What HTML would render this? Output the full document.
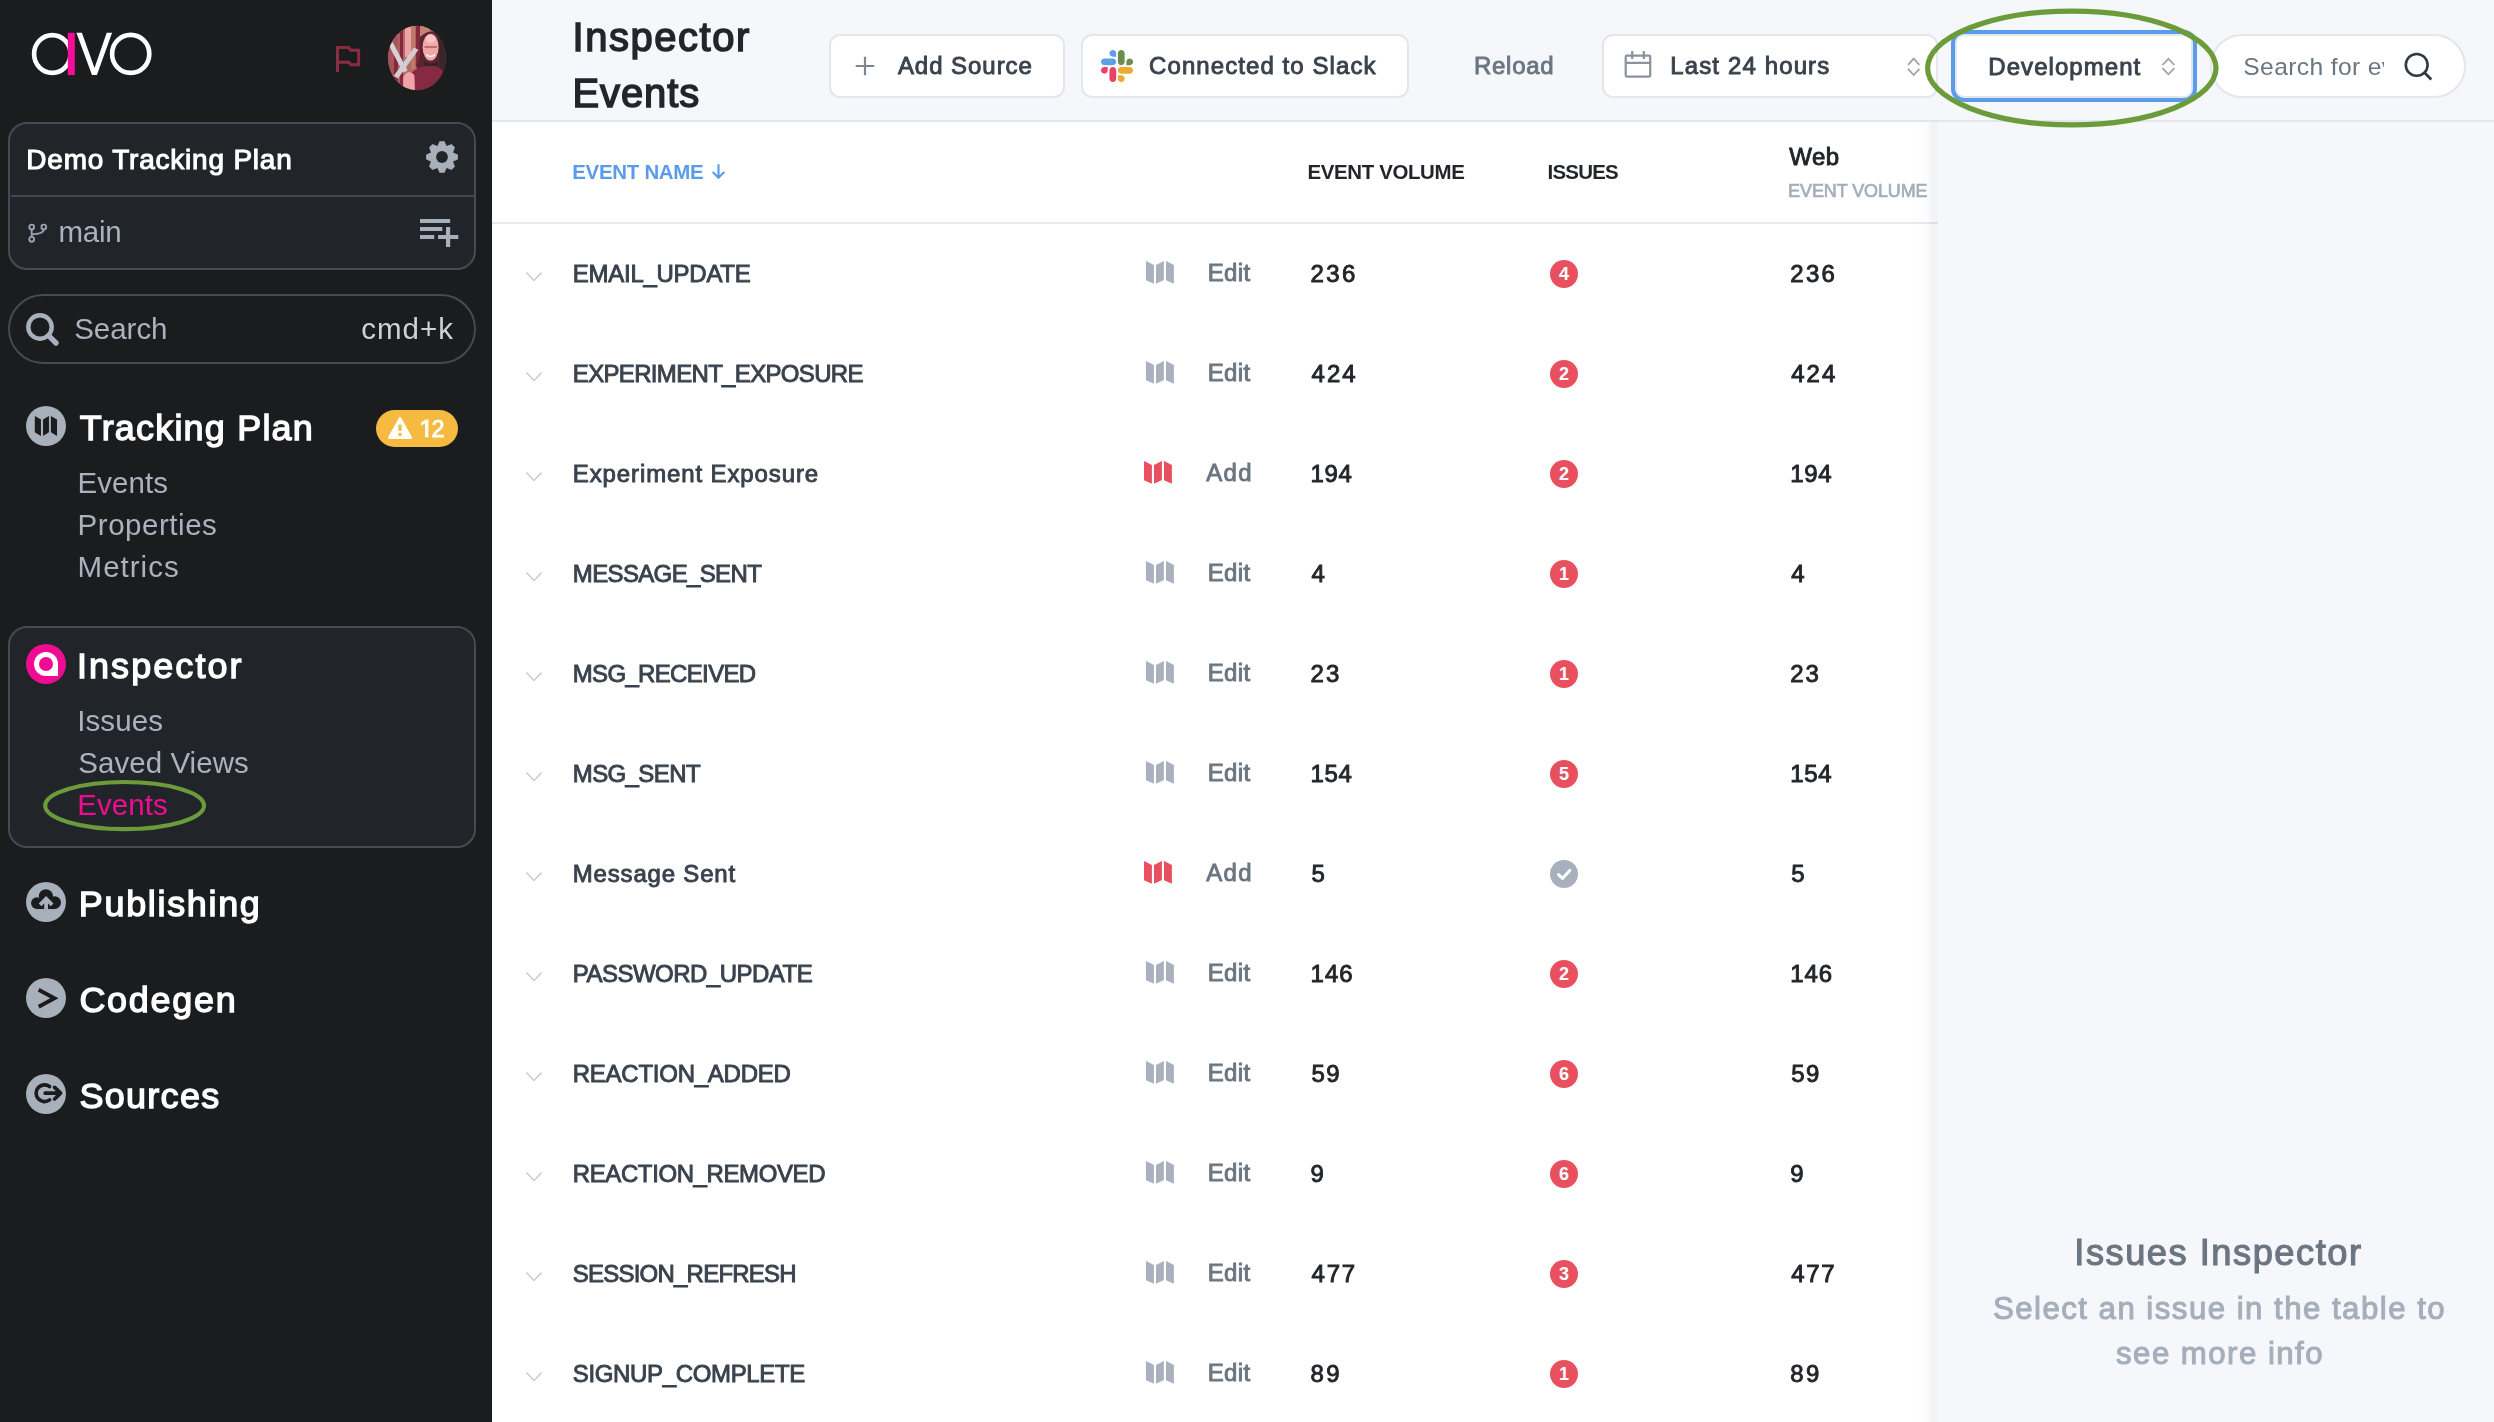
<!DOCTYPE html>
<html>
<head>
<meta charset="utf-8">
<title>Inspector Events</title>
<style>
*{box-sizing:border-box;margin:0;padding:0}
html,body{width:2494px;height:1422px;overflow:hidden;background:#f6f7fb}
body{font-family:"Liberation Sans",sans-serif;position:relative;color:#22262a}
.t{position:absolute;white-space:nowrap;line-height:1}
.abs{position:absolute}
#tx{position:absolute;left:0;top:0;width:2494px;height:1422px;will-change:transform}
#sb{position:absolute;left:0;top:0;width:492px;height:1422px;background:#1b1c1e}
.box{position:absolute;left:8px;width:468px;background:#212529;border:2px solid #444b55;border-radius:19px}
.ic{position:absolute;left:25.8px;width:40.4px;height:40.4px;border-radius:50%;background:#a8b0bc}
#hd{position:absolute;left:492px;top:0;width:2002px;height:122px;background:#f6f7fb;border-bottom:2px solid #e3e6ec}
#tb{position:absolute;left:492px;top:122px;width:1446px;height:1300px;background:#fff}
#th{position:absolute;left:0;top:100px;width:1446px;height:2px;background:#e6e9ee}
#rp{position:absolute;left:1938px;top:122px;width:556px;height:1300px;background:#f6f7fb;}
#sh{position:absolute;left:1916px;top:122px;width:22px;height:1300px;background:linear-gradient(to right,rgba(20,30,80,0) 0,rgba(20,30,80,.006) 30%,rgba(20,30,80,.014) 55%,rgba(20,30,80,.05) 68%,rgba(20,30,80,.056) 100%)}
.btn{position:absolute;top:34.3px;height:63.4px;background:#fff;border:2px solid #e3e6ea;border-radius:11px}
.bd{position:absolute;left:1549.9px;width:28.2px;height:28.2px;border-radius:50%;background:#e8505f;color:#fff;font-size:18px;font-weight:bold;text-align:center;line-height:28.6px}
</style>
</head>
<body>
<div id="sb">
<svg class="abs" style="left:28px;top:28px" width="130" height="52" viewBox="28 28 130 52">
<ellipse cx="52.3" cy="54" rx="18.2" ry="18.9" fill="none" stroke="#fff" stroke-width="4.6"/>
<rect x="67.8" y="32.8" width="7" height="42.3" fill="#f50d9a"/>
<path d="M76.4 32.8 L81.9 32.8 L94.5 67.9 L106.7 32.8 L112.1 32.8 L96.9 75 L92.0 75 Z" fill="#fff"/>
<ellipse cx="130.7" cy="53.9" rx="18.6" ry="19.0" fill="none" stroke="#fff" stroke-width="4.6"/>
</svg>
<svg class="abs" style="left:332px;top:42px" width="32" height="34" viewBox="332 42 32 34">
<path d="M337.5 72 V47.5 H348.6 L350.9 50.2 H358.6 V64.8 H350.9 L348.6 62.2 H337.5" fill="none" stroke="#8c2c42" stroke-width="3" stroke-linejoin="miter"/>
</svg>
<svg class="abs" style="left:386px;top:25px" width="64" height="66" viewBox="0 0 64 66">
<defs><clipPath id="av"><ellipse cx="30.9" cy="33" rx="28.9" ry="32.2"/></clipPath></defs>
<g clip-path="url(#av)">
<rect width="64" height="66" fill="#b06a68"/>
<rect x="0" y="0" width="12" height="66" fill="#a8525a"/>
<rect x="13.8" y="0" width="3.2" height="66" fill="#84283e"/>
<rect x="8" y="30" width="4" height="36" fill="#84283e"/>
<rect x="19" y="2" width="6" height="30" fill="#eea4a4"/>
<rect x="25" y="0" width="4.5" height="44" fill="#c07a6c"/>
<rect x="29.8" y="0" width="4.2" height="42" fill="#84283e"/>
<rect x="34" y="0" width="10" height="14" fill="#c48474"/>
<path d="M2.4 19.6 L6.8 17.2 L21.6 45.4 L17.2 47.8 Z" fill="#d8d0d4"/>
<path d="M28 22.4 L32.4 24.8 L12 53.6 L7.6 51 Z" fill="#d4ccd0"/>
<path d="M34 12 Q44 2 55 10 L62 30 L62 66 L30 66 L31 40 L34 30 Z" fill="#5a2430"/>
<path d="M52.5 8 L60 14 L61 56 L54 54 Z" fill="#36262a"/>
<ellipse cx="44.6" cy="22.2" rx="8" ry="13.4" fill="#f4a6a8"/>
<ellipse cx="44.6" cy="14" rx="5" ry="4" fill="#f8c4c4"/>
<path d="M38.5 22 H51" stroke="#a85a62" stroke-width="1.6"/>
<path d="M40 29.5 Q44.6 33.5 49.2 29.5" stroke="#fff0f0" stroke-width="1.6" fill="none"/>
<path d="M38 36 Q44.6 42 52 36 L52 41 L38 41 Z" fill="#2c2628"/>
<path d="M23.8 66 L25 48 Q34 40 44 40.8 Q54 41 59 48 L60 66 Z" fill="#852a42"/>
<path d="M17 66 L17.4 52 Q22.5 43 28.4 50 L29 66 Z" fill="#f0a2a6"/>
</g>
</svg>
<div class="box" style="top:122px;height:148px"></div>
<div class="abs" style="left:10.5px;top:195px;width:463.5px;height:2px;background:#444a53"></div>
<svg class="abs" style="left:423.9px;top:138.8px" width="36" height="36" viewBox="-18 -18 36 36">
<g fill="#a8b0bc">
<circle r="11.8"/>
<path d="M-4.1 -10.8 L-2.1 -15.3 L2.1 -15.3 L4.1 -10.8 Z" stroke="#a8b0bc" stroke-width="1.1" stroke-linejoin="round" transform="rotate(0)"/><path d="M-4.1 -10.8 L-2.1 -15.3 L2.1 -15.3 L4.1 -10.8 Z" stroke="#a8b0bc" stroke-width="1.1" stroke-linejoin="round" transform="rotate(45)"/><path d="M-4.1 -10.8 L-2.1 -15.3 L2.1 -15.3 L4.1 -10.8 Z" stroke="#a8b0bc" stroke-width="1.1" stroke-linejoin="round" transform="rotate(90)"/><path d="M-4.1 -10.8 L-2.1 -15.3 L2.1 -15.3 L4.1 -10.8 Z" stroke="#a8b0bc" stroke-width="1.1" stroke-linejoin="round" transform="rotate(135)"/><path d="M-4.1 -10.8 L-2.1 -15.3 L2.1 -15.3 L4.1 -10.8 Z" stroke="#a8b0bc" stroke-width="1.1" stroke-linejoin="round" transform="rotate(180)"/><path d="M-4.1 -10.8 L-2.1 -15.3 L2.1 -15.3 L4.1 -10.8 Z" stroke="#a8b0bc" stroke-width="1.1" stroke-linejoin="round" transform="rotate(225)"/><path d="M-4.1 -10.8 L-2.1 -15.3 L2.1 -15.3 L4.1 -10.8 Z" stroke="#a8b0bc" stroke-width="1.1" stroke-linejoin="round" transform="rotate(270)"/><path d="M-4.1 -10.8 L-2.1 -15.3 L2.1 -15.3 L4.1 -10.8 Z" stroke="#a8b0bc" stroke-width="1.1" stroke-linejoin="round" transform="rotate(315)"/>
</g>
<circle r="5.9" fill="#212529"/>
</svg>
<svg class="abs" style="left:26px;top:221px" width="24" height="24" viewBox="26 221 24 24">
<g fill="none" stroke="#9aa3b0" stroke-width="1.9">
<circle cx="31.7" cy="227" r="2.4"/><circle cx="31.7" cy="239.3" r="2.4"/><circle cx="43.8" cy="227" r="2.4"/>
<path d="M31.7 229.4 V236.9"/><path d="M43.8 229.4 Q43.8 233.6 31.7 234.4"/>
</g>
</svg>
<svg class="abs" style="left:418px;top:217px" width="42" height="32" viewBox="418 217 42 32">
<g fill="#a8b0bc">
<rect x="420" y="219" width="30.2" height="4"/><rect x="420" y="227" width="22.3" height="4"/><rect x="420" y="235" width="14.2" height="4"/>
<rect x="438" y="235" width="20.3" height="4"/><rect x="446" y="227" width="4.2" height="20"/>
</g>
</svg>
<div class="box" style="top:294px;height:70px;border-radius:35px;background:#1b1c1e"></div>
<svg class="abs" style="left:24px;top:310px" width="38" height="38" viewBox="24 310 38 38">
<circle cx="40" cy="327" r="11.7" fill="none" stroke="#a8b0bc" stroke-width="4.4"/>
<path d="M48.6 335.6 L56 343" stroke="#a8b0bc" stroke-width="5.4" stroke-linecap="round"/>
</svg>
<div class="ic" style="top:405.8px"></div>
<svg class="abs" style="left:25px;top:406px" width="41" height="41" viewBox="25 406 41 41">
<g fill="#1b1c1e">
<path d="M34.8 415.9 L40.95 419.5 V435.9 L34.8 432.3 Z"/>
<path d="M43.05 419.5 L48.95 415.9 V432.3 L43.05 435.9 Z"/>
<path d="M50.9 415.9 L57 419.5 V435.9 L50.9 432.3 Z"/>
</g>
</svg>
<div class="abs" style="left:375.9px;top:409.9px;width:82.3px;height:37.3px;border-radius:19px;background:#f5ba40"></div>
<svg class="abs" style="left:386px;top:415px" width="28" height="26" viewBox="386 415 28 26">
<path d="M400.05 418.3 L410.8 437.6 H389.3 Z" fill="#fff" stroke="#fff" stroke-width="2.6" stroke-linejoin="round"/>
<rect x="398.4" y="424.6" width="3.2" height="6.2" fill="#f5ba40"/><rect x="398.4" y="432.9" width="3.2" height="3.1" fill="#f5ba40"/>
</svg>
<svg class="abs" style="left:419px;top:417px" width="12" height="23" viewBox="419 417 12 23"><path d="M428.4 419.5 V437.3 H425.1 V423.2 L421.2 425.7 V422.5 L425.7 419.5 Z" fill="#fff"/></svg>
<div class="box" style="top:626px;height:222px"></div>
<div class="ic" style="top:643.8px;background:#f00c92"></div>
<svg class="abs" style="left:25px;top:644px" width="41" height="41" viewBox="25 644 41 41">
<path d="M46 652 A12 12 0 0 1 58 664 V676 H46 A12 12 0 0 1 46 652 Z" fill="#fff"/>
<circle cx="46" cy="664" r="7" fill="#f00c92"/>
</svg>
<svg class="abs" style="left:38px;top:775px" width="174" height="62" viewBox="38 775 174 62">
<ellipse cx="124.6" cy="805.6" rx="79.4" ry="23.6" fill="none" stroke="#6b9c39" stroke-width="4.2"/>
</svg>
<div class="ic" style="top:881.8px"></div>
<svg class="abs" style="left:25.9px;top:882px" width="40.4" height="40.4" viewBox="0 0 40.4 40.4">
<g fill="#1b1c1e"><circle cx="19.9" cy="14.2" r="7"/><circle cx="10.9" cy="21.2" r="5.85"/><circle cx="28.6" cy="20.6" r="6.4"/><rect x="10.9" y="16" width="17.7" height="11.05"/></g>
<path d="M20.1 27.3 V17 M14.1 22.8 L20.1 16.7 L26.1 22.8" fill="none" stroke="#a8b0bc" stroke-width="3.8"/>
</svg>
<div class="ic" style="top:977.6px"></div>
<svg class="abs" style="left:25.9px;top:977.7px" width="40.4" height="40.4" viewBox="0 0 40.4 40.4">
<path d="M14.4 12.7 L28.4 20.2 L14.4 27.8" fill="none" stroke="#1b1c1e" stroke-width="3.9" stroke-linecap="square" stroke-linejoin="miter"/>
</svg>
<div class="ic" style="top:1073.7px"></div>
<svg class="abs" style="left:25.9px;top:1073.7px" width="40.4" height="40.4" viewBox="0 0 40.4 40.4">
<g fill="none" stroke="#1b1c1e" stroke-width="3.7" stroke-linecap="round" stroke-linejoin="round">
<path d="M23.6 12.5 A8.4 8.4 0 1 0 23.6 25.9"/>
<path d="M19.2 19.2 H34.4 M28.6 13.4 L34.6 19.2 L28.6 25"/>
</g>
</svg>
</div>
<div id="hd"></div>
<div class="btn" style="left:829.3px;width:235.4px"></div>
<svg class="abs" style="left:853px;top:54px" width="24" height="24" viewBox="853 54 24 24">
<path d="M855.7 66 H874.3 M865 56.7 V75.3" stroke="#7d8691" stroke-width="2.2" fill="none"/>
</svg>
<div class="btn" style="left:1081.4px;width:328px"></div>
<svg class="abs" style="left:1100.8px;top:50px" width="32.1" height="32.1" viewBox="0 0 122.8 122.8">
<path fill="#e8426a" d="M25.8 77.6c0 7.1-5.8 12.9-12.9 12.9S0 84.7 0 77.6s5.8-12.9 12.9-12.9h12.9v12.9zm6.5 0c0-7.1 5.8-12.9 12.9-12.9s12.9 5.8 12.9 12.9v32.3c0 7.1-5.8 12.9-12.9 12.9s-12.9-5.8-12.9-12.9V77.6z"/>
<path fill="#5b9fe8" d="M45.2 25.8c-7.1 0-12.9-5.8-12.9-12.9S38.1 0 45.2 0s12.9 5.8 12.9 12.9v12.9H45.2zm0 6.5c7.1 0 12.9 5.8 12.9 12.9s-5.8 12.9-12.9 12.9H12.9C5.8 58.1 0 52.3 0 45.2s5.8-12.9 12.9-12.9h32.3z"/>
<path fill="#6b8e4e" d="M97 45.2c0-7.1 5.8-12.9 12.9-12.9s12.9 5.8 12.9 12.9-5.8 12.9-12.9 12.9H97V45.2zm-6.5 0c0 7.1-5.8 12.9-12.9 12.9s-12.9-5.8-12.9-12.9V12.9C64.7 5.8 70.5 0 77.6 0s12.9 5.8 12.9 12.9v32.3z"/>
<path fill="#eeab30" d="M77.6 97c7.1 0 12.9 5.8 12.9 12.9s-5.8 12.9-12.9 12.9-12.9-5.8-12.9-12.9V97h12.9zm0-6.5c-7.1 0-12.9-5.8-12.9-12.9s5.8-12.9 12.9-12.9h32.3c7.1 0 12.9 5.8 12.9 12.9s-5.8 12.9-12.9 12.9H77.6z"/>
</svg>
<div class="btn" style="left:1602.3px;width:335.6px"></div>
<svg class="abs" style="left:1622px;top:49px" width="32" height="32" viewBox="1622 49 32 32">
<g fill="none" stroke="#8a929d" stroke-width="2.2">
<rect x="1625.7" y="55.7" width="24.5" height="20.9" rx="1"/>
<path d="M1625.7 62.9 H1650.2 M1632.2 51 V59 M1643.8 51 V59"/>
</g>
</svg>
<svg class="abs" style="left:1904px;top:54px" width="20" height="26" viewBox="1904 54 20 26">
<path d="M1908 64.8 L1913.7 58.6 L1919.4 64.8 M1908 68.8 L1913.7 75 L1919.4 68.8" fill="none" stroke="#9aa2ad" stroke-width="1.7"/>
</svg>
<div class="btn" style="left:1954.6px;width:238px;box-shadow:0 0 0 4px #5b9cea;border-radius:9px"></div>
<svg class="abs" style="left:2158px;top:54px" width="20" height="26" viewBox="2158 54 20 26">
<path d="M2162.4 65 L2168.4 58.8 L2174.4 65 M2162.4 68.2 L2168.4 74.4 L2174.4 68.2" fill="none" stroke="#9aa2ad" stroke-width="1.7"/>
</svg>
<div class="btn" style="left:2209.5px;width:256.4px;border-radius:32px"></div>
<svg class="abs" style="left:2400px;top:48px" width="36" height="36" viewBox="2400 48 36 36">
<circle cx="2416.7" cy="64.9" r="10.9" fill="none" stroke="#2f3844" stroke-width="2.6"/>
<path d="M2424.6 72.8 L2430.3 78.4" stroke="#2f3844" stroke-width="2.8" stroke-linecap="square"/>
</svg>
<div id="tb"><div id="th"></div></div>
<svg class="abs" style="left:709px;top:162px" width="20" height="20" viewBox="709 162 20 20"><path d="M718.5 164.3 V177.6 M712.7 172 L718.5 177.8 L724.3 172" fill="none" stroke="#5b9cea" stroke-width="2.2"/></svg>
<svg class="abs" style="left:524px;top:269.8px" width="20" height="14" viewBox="0 0 20 14"><path d="M2.4 2.5 L10 10.6 L17.6 2.5" fill="none" stroke="#c5cad2" stroke-width="1.4"/></svg>
<svg class="abs" style="left:1146px;top:260.5px" width="28" height="23" viewBox="0 0 28 23"><g fill="#a9b1be"><path d="M0 0 L7.9 3.9 V22.8 L0 19.2 Z"/><path d="M10 3.9 L17.9 0 V19 L10 22.8 Z"/><path d="M20 0 L27.9 3.9 V22.8 L20 19.2 Z"/></g></svg>
<div class="bd" style="top:259.7px">4</div>
<svg class="abs" style="left:524px;top:369.8px" width="20" height="14" viewBox="0 0 20 14"><path d="M2.4 2.5 L10 10.6 L17.6 2.5" fill="none" stroke="#c5cad2" stroke-width="1.4"/></svg>
<svg class="abs" style="left:1146px;top:360.5px" width="28" height="23" viewBox="0 0 28 23"><g fill="#a9b1be"><path d="M0 0 L7.9 3.9 V22.8 L0 19.2 Z"/><path d="M10 3.9 L17.9 0 V19 L10 22.8 Z"/><path d="M20 0 L27.9 3.9 V22.8 L20 19.2 Z"/></g></svg>
<div class="bd" style="top:359.7px">2</div>
<svg class="abs" style="left:524px;top:469.8px" width="20" height="14" viewBox="0 0 20 14"><path d="M2.4 2.5 L10 10.6 L17.6 2.5" fill="none" stroke="#c5cad2" stroke-width="1.4"/></svg>
<svg class="abs" style="left:1144.1px;top:460.5px" width="28" height="23" viewBox="0 0 28 23"><g fill="#e8505f"><path d="M0 0 L7.9 3.9 V22.8 L0 19.2 Z"/><path d="M10 3.9 L17.9 0 V19 L10 22.8 Z"/><path d="M20 0 L27.9 3.9 V22.8 L20 19.2 Z"/></g></svg>
<div class="bd" style="top:459.7px">2</div>
<svg class="abs" style="left:524px;top:569.8px" width="20" height="14" viewBox="0 0 20 14"><path d="M2.4 2.5 L10 10.6 L17.6 2.5" fill="none" stroke="#c5cad2" stroke-width="1.4"/></svg>
<svg class="abs" style="left:1146px;top:560.5px" width="28" height="23" viewBox="0 0 28 23"><g fill="#a9b1be"><path d="M0 0 L7.9 3.9 V22.8 L0 19.2 Z"/><path d="M10 3.9 L17.9 0 V19 L10 22.8 Z"/><path d="M20 0 L27.9 3.9 V22.8 L20 19.2 Z"/></g></svg>
<div class="bd" style="top:559.7px">1</div>
<svg class="abs" style="left:524px;top:669.8px" width="20" height="14" viewBox="0 0 20 14"><path d="M2.4 2.5 L10 10.6 L17.6 2.5" fill="none" stroke="#c5cad2" stroke-width="1.4"/></svg>
<svg class="abs" style="left:1146px;top:660.5px" width="28" height="23" viewBox="0 0 28 23"><g fill="#a9b1be"><path d="M0 0 L7.9 3.9 V22.8 L0 19.2 Z"/><path d="M10 3.9 L17.9 0 V19 L10 22.8 Z"/><path d="M20 0 L27.9 3.9 V22.8 L20 19.2 Z"/></g></svg>
<div class="bd" style="top:659.7px">1</div>
<svg class="abs" style="left:524px;top:769.8px" width="20" height="14" viewBox="0 0 20 14"><path d="M2.4 2.5 L10 10.6 L17.6 2.5" fill="none" stroke="#c5cad2" stroke-width="1.4"/></svg>
<svg class="abs" style="left:1146px;top:760.5px" width="28" height="23" viewBox="0 0 28 23"><g fill="#a9b1be"><path d="M0 0 L7.9 3.9 V22.8 L0 19.2 Z"/><path d="M10 3.9 L17.9 0 V19 L10 22.8 Z"/><path d="M20 0 L27.9 3.9 V22.8 L20 19.2 Z"/></g></svg>
<div class="bd" style="top:759.7px">5</div>
<svg class="abs" style="left:524px;top:869.8px" width="20" height="14" viewBox="0 0 20 14"><path d="M2.4 2.5 L10 10.6 L17.6 2.5" fill="none" stroke="#c5cad2" stroke-width="1.4"/></svg>
<svg class="abs" style="left:1144.1px;top:860.5px" width="28" height="23" viewBox="0 0 28 23"><g fill="#e8505f"><path d="M0 0 L7.9 3.9 V22.8 L0 19.2 Z"/><path d="M10 3.9 L17.9 0 V19 L10 22.8 Z"/><path d="M20 0 L27.9 3.9 V22.8 L20 19.2 Z"/></g></svg>
<div class="bd" style="top:859.7px;background:#a8b0bc"></div>
<svg class="abs" style="left:1549.9px;top:859.7px" width="28.2" height="28.2" viewBox="0 0 28.2 28.2"><path d="M8.6 14.6 L12.5 18.4 L19.8 10.4" fill="none" stroke="#fff" stroke-width="3" stroke-linecap="round" stroke-linejoin="round"/></svg>
<svg class="abs" style="left:524px;top:969.8px" width="20" height="14" viewBox="0 0 20 14"><path d="M2.4 2.5 L10 10.6 L17.6 2.5" fill="none" stroke="#c5cad2" stroke-width="1.4"/></svg>
<svg class="abs" style="left:1146px;top:960.5px" width="28" height="23" viewBox="0 0 28 23"><g fill="#a9b1be"><path d="M0 0 L7.9 3.9 V22.8 L0 19.2 Z"/><path d="M10 3.9 L17.9 0 V19 L10 22.8 Z"/><path d="M20 0 L27.9 3.9 V22.8 L20 19.2 Z"/></g></svg>
<div class="bd" style="top:959.7px">2</div>
<svg class="abs" style="left:524px;top:1069.8px" width="20" height="14" viewBox="0 0 20 14"><path d="M2.4 2.5 L10 10.6 L17.6 2.5" fill="none" stroke="#c5cad2" stroke-width="1.4"/></svg>
<svg class="abs" style="left:1146px;top:1060.5px" width="28" height="23" viewBox="0 0 28 23"><g fill="#a9b1be"><path d="M0 0 L7.9 3.9 V22.8 L0 19.2 Z"/><path d="M10 3.9 L17.9 0 V19 L10 22.8 Z"/><path d="M20 0 L27.9 3.9 V22.8 L20 19.2 Z"/></g></svg>
<div class="bd" style="top:1059.7px">6</div>
<svg class="abs" style="left:524px;top:1169.8px" width="20" height="14" viewBox="0 0 20 14"><path d="M2.4 2.5 L10 10.6 L17.6 2.5" fill="none" stroke="#c5cad2" stroke-width="1.4"/></svg>
<svg class="abs" style="left:1146px;top:1160.5px" width="28" height="23" viewBox="0 0 28 23"><g fill="#a9b1be"><path d="M0 0 L7.9 3.9 V22.8 L0 19.2 Z"/><path d="M10 3.9 L17.9 0 V19 L10 22.8 Z"/><path d="M20 0 L27.9 3.9 V22.8 L20 19.2 Z"/></g></svg>
<div class="bd" style="top:1159.7px">6</div>
<svg class="abs" style="left:524px;top:1269.8px" width="20" height="14" viewBox="0 0 20 14"><path d="M2.4 2.5 L10 10.6 L17.6 2.5" fill="none" stroke="#c5cad2" stroke-width="1.4"/></svg>
<svg class="abs" style="left:1146px;top:1260.5px" width="28" height="23" viewBox="0 0 28 23"><g fill="#a9b1be"><path d="M0 0 L7.9 3.9 V22.8 L0 19.2 Z"/><path d="M10 3.9 L17.9 0 V19 L10 22.8 Z"/><path d="M20 0 L27.9 3.9 V22.8 L20 19.2 Z"/></g></svg>
<div class="bd" style="top:1259.7px">3</div>
<svg class="abs" style="left:524px;top:1369.8px" width="20" height="14" viewBox="0 0 20 14"><path d="M2.4 2.5 L10 10.6 L17.6 2.5" fill="none" stroke="#c5cad2" stroke-width="1.4"/></svg>
<svg class="abs" style="left:1146px;top:1360.5px" width="28" height="23" viewBox="0 0 28 23"><g fill="#a9b1be"><path d="M0 0 L7.9 3.9 V22.8 L0 19.2 Z"/><path d="M10 3.9 L17.9 0 V19 L10 22.8 Z"/><path d="M20 0 L27.9 3.9 V22.8 L20 19.2 Z"/></g></svg>
<div class="bd" style="top:1359.7px">1</div>
<div id="rp"></div>
<div id="sh"></div>
<div id="tx">
<div class="t" style="left:26.3px;top:146px;font-size:27.96px;color:#fff;-webkit-text-stroke:1.06px #fff;letter-spacing:0.81px;">Demo Tracking Plan</div>
<div class="t" style="left:58.5px;top:217px;font-size:29.5px;color:#aab2bf;letter-spacing:-0.24px;">main</div>
<div class="t" style="left:74.2px;top:314px;font-size:29.5px;color:#aab2bf;letter-spacing:-0.03px;">Search</div>
<div class="t" style="left:361.3px;top:314px;font-size:29.5px;color:#cdd2d9;letter-spacing:0.99px;">cmd+k</div>
<div class="t" style="left:79.8px;top:410px;font-size:35.95px;color:#fff;-webkit-text-stroke:1.37px #fff;letter-spacing:1.22px;">Tracking Plan</div>
<div class="t" style="left:431.6px;top:418px;font-size:23.44px;color:#fff;-webkit-text-stroke:0.75px #fff;">2</div>
<div class="t" style="left:77.6px;top:468px;font-size:29.5px;color:#aab2bf;letter-spacing:0.03px;">Events</div>
<div class="t" style="left:77.6px;top:510px;font-size:29.5px;color:#aab2bf;letter-spacing:0.53px;">Properties</div>
<div class="t" style="left:77.6px;top:552px;font-size:29.5px;color:#aab2bf;letter-spacing:1.00px;">Metrics</div>
<div class="t" style="left:76.9px;top:648px;font-size:35.95px;color:#fff;-webkit-text-stroke:1.37px #fff;letter-spacing:2.11px;">Inspector</div>
<div class="t" style="left:77.2px;top:706px;font-size:29.5px;color:#aab2bf;letter-spacing:0.10px;">Issues</div>
<div class="t" style="left:78.2px;top:748px;font-size:29.5px;color:#aab2bf;letter-spacing:0.06px;">Saved Views</div>
<div class="t" style="left:77.2px;top:790px;font-size:29.5px;color:#f00c92;letter-spacing:0.09px;">Events</div>
<div class="t" style="left:78.8px;top:886px;font-size:35.95px;color:#fff;-webkit-text-stroke:1.37px #fff;letter-spacing:1.69px;">Publishing</div>
<div class="t" style="left:79.4px;top:982px;font-size:35.95px;color:#fff;-webkit-text-stroke:1.37px #fff;letter-spacing:1.74px;">Codegen</div>
<div class="t" style="left:79.4px;top:1078px;font-size:35.95px;color:#fff;-webkit-text-stroke:1.37px #fff;letter-spacing:1.33px;">Sources</div>
<div class="t" style="left:572.6px;top:18px;font-size:39.95px;color:#22262a;-webkit-text-stroke:1.52px #22262a;letter-spacing:1.55px;">Inspector</div>
<div class="t" style="left:572.6px;top:74px;font-size:39.95px;color:#22262a;-webkit-text-stroke:1.52px #22262a;letter-spacing:0.89px;">Events</div>
<div class="t" style="left:897.9px;top:54px;font-size:23.97px;color:#3a424d;-webkit-text-stroke:0.91px #3a424d;letter-spacing:0.97px;">Add Source</div>
<div class="t" style="left:1149.1px;top:54px;font-size:23.97px;color:#3a424d;-webkit-text-stroke:0.91px #3a424d;letter-spacing:1.09px;">Connected to Slack</div>
<div class="t" style="left:1474.1px;top:54px;font-size:23.97px;color:#6b7681;-webkit-text-stroke:0.91px #6b7681;letter-spacing:0.69px;">Reload</div>
<div class="t" style="left:1670.3px;top:54px;font-size:23.97px;color:#3a424d;-webkit-text-stroke:0.91px #3a424d;letter-spacing:1.14px;">Last 24 hours</div>
<div class="t" style="left:1988.3px;top:55px;font-size:23.97px;color:#3a424d;-webkit-text-stroke:0.91px #3a424d;letter-spacing:1.07px;">Development</div>
<div class="abs" style="left:2241.3px;top:51px;width:142.8px;height:35px;overflow:hidden"><div class="t" style="left:2px;top:4px;font-size:24.65px;color:#6b7681;letter-spacing:0.36px;">Search for events</div></div>
<div class="t" style="left:572.2px;top:162px;font-size:20.44px;color:#5b9cea;font-weight:bold;letter-spacing:-0.27px;">EVENT NAME</div>
<div class="t" style="left:1307.5px;top:162px;font-size:20.44px;color:#22262a;font-weight:bold;letter-spacing:-0.36px;">EVENT VOLUME</div>
<div class="t" style="left:1547.5px;top:162px;font-size:20.44px;color:#22262a;font-weight:bold;letter-spacing:-0.75px;">ISSUES</div>
<div class="t" style="left:1789.3px;top:145px;font-size:23.97px;color:#22262a;-webkit-text-stroke:0.91px #22262a;letter-spacing:0.43px;">Web</div>
<div class="t" style="left:1788.1px;top:182px;font-size:17.98px;color:#a5aebb;-webkit-text-stroke:0.68px #a5aebb;letter-spacing:-0.09px;">EVENT VOLUME</div>
<div class="t" style="left:2074.3px;top:1235px;font-size:36.25px;color:#6b7681;-webkit-text-stroke:1.16px #6b7681;letter-spacing:1.52px;">Issues Inspector</div>
<div class="t" style="left:1992.9px;top:1293px;font-size:31.21px;color:#a5aebb;-webkit-text-stroke:1.00px #a5aebb;letter-spacing:1.47px;">Select an issue in the table to</div>
<div class="t" style="left:2116.0px;top:1338px;font-size:31.21px;color:#a5aebb;-webkit-text-stroke:1.00px #a5aebb;letter-spacing:1.46px;">see more info</div>
<div class="t" style="left:572.8px;top:262px;font-size:23.97px;color:#3a424d;-webkit-text-stroke:0.91px #3a424d;letter-spacing:-0.25px;">EMAIL_UPDATE</div>
<div class="t" style="left:1207.7px;top:261px;font-size:23.97px;color:#6b7681;-webkit-text-stroke:0.91px #6b7681;letter-spacing:0.38px;">Edit</div>
<div class="t" style="left:1310.6px;top:262px;font-size:23.97px;color:#22262a;-webkit-text-stroke:0.91px #22262a;letter-spacing:2.36px;">236</div>
<div class="t" style="left:1790.2px;top:262px;font-size:23.97px;color:#22262a;-webkit-text-stroke:0.91px #22262a;letter-spacing:2.36px;">236</div>
<div class="t" style="left:572.8px;top:362px;font-size:23.97px;color:#3a424d;-webkit-text-stroke:0.91px #3a424d;letter-spacing:-0.65px;">EXPERIMENT_EXPOSURE</div>
<div class="t" style="left:1207.7px;top:361px;font-size:23.97px;color:#6b7681;-webkit-text-stroke:0.91px #6b7681;letter-spacing:0.38px;">Edit</div>
<div class="t" style="left:1311.6px;top:362px;font-size:23.97px;color:#22262a;-webkit-text-stroke:0.91px #22262a;letter-spacing:2.06px;">424</div>
<div class="t" style="left:1791.2px;top:362px;font-size:23.97px;color:#22262a;-webkit-text-stroke:0.91px #22262a;letter-spacing:2.06px;">424</div>
<div class="t" style="left:572.8px;top:462px;font-size:23.97px;color:#3a424d;-webkit-text-stroke:0.91px #3a424d;letter-spacing:0.90px;">Experiment Exposure</div>
<div class="t" style="left:1206.2px;top:461px;font-size:23.97px;color:#6b7681;-webkit-text-stroke:0.91px #6b7681;letter-spacing:1.34px;">Add</div>
<div class="t" style="left:1310.6px;top:462px;font-size:23.97px;color:#22262a;-webkit-text-stroke:0.91px #22262a;letter-spacing:0.66px;">194</div>
<div class="t" style="left:1790.2px;top:462px;font-size:23.97px;color:#22262a;-webkit-text-stroke:0.91px #22262a;letter-spacing:0.66px;">194</div>
<div class="t" style="left:572.8px;top:562px;font-size:23.97px;color:#3a424d;-webkit-text-stroke:0.91px #3a424d;letter-spacing:-0.62px;">MESSAGE_SENT</div>
<div class="t" style="left:1207.7px;top:561px;font-size:23.97px;color:#6b7681;-webkit-text-stroke:0.91px #6b7681;letter-spacing:0.38px;">Edit</div>
<div class="t" style="left:1311.6px;top:562px;font-size:23.97px;color:#22262a;-webkit-text-stroke:0.91px #22262a;">4</div>
<div class="t" style="left:1791.2px;top:562px;font-size:23.97px;color:#22262a;-webkit-text-stroke:0.91px #22262a;">4</div>
<div class="t" style="left:572.8px;top:662px;font-size:23.97px;color:#3a424d;-webkit-text-stroke:0.91px #3a424d;letter-spacing:-0.65px;">MSG_RECEIVED</div>
<div class="t" style="left:1207.7px;top:661px;font-size:23.97px;color:#6b7681;-webkit-text-stroke:0.91px #6b7681;letter-spacing:0.38px;">Edit</div>
<div class="t" style="left:1310.6px;top:662px;font-size:23.97px;color:#22262a;-webkit-text-stroke:0.91px #22262a;letter-spacing:2.06px;">23</div>
<div class="t" style="left:1790.2px;top:662px;font-size:23.97px;color:#22262a;-webkit-text-stroke:0.91px #22262a;letter-spacing:2.06px;">23</div>
<div class="t" style="left:572.8px;top:762px;font-size:23.97px;color:#3a424d;-webkit-text-stroke:0.91px #3a424d;letter-spacing:-0.59px;">MSG_SENT</div>
<div class="t" style="left:1207.7px;top:761px;font-size:23.97px;color:#6b7681;-webkit-text-stroke:0.91px #6b7681;letter-spacing:0.38px;">Edit</div>
<div class="t" style="left:1310.6px;top:762px;font-size:23.97px;color:#22262a;-webkit-text-stroke:0.91px #22262a;letter-spacing:0.66px;">154</div>
<div class="t" style="left:1790.2px;top:762px;font-size:23.97px;color:#22262a;-webkit-text-stroke:0.91px #22262a;letter-spacing:0.66px;">154</div>
<div class="t" style="left:572.8px;top:862px;font-size:23.97px;color:#3a424d;-webkit-text-stroke:0.91px #3a424d;letter-spacing:0.83px;">Message Sent</div>
<div class="t" style="left:1206.2px;top:861px;font-size:23.97px;color:#6b7681;-webkit-text-stroke:0.91px #6b7681;letter-spacing:1.34px;">Add</div>
<div class="t" style="left:1311.6px;top:862px;font-size:23.97px;color:#22262a;-webkit-text-stroke:0.91px #22262a;">5</div>
<div class="t" style="left:1791.2px;top:862px;font-size:23.97px;color:#22262a;-webkit-text-stroke:0.91px #22262a;">5</div>
<div class="t" style="left:572.8px;top:962px;font-size:23.97px;color:#3a424d;-webkit-text-stroke:0.91px #3a424d;letter-spacing:-0.50px;">PASSWORD_UPDATE</div>
<div class="t" style="left:1207.7px;top:961px;font-size:23.97px;color:#6b7681;-webkit-text-stroke:0.91px #6b7681;letter-spacing:0.38px;">Edit</div>
<div class="t" style="left:1310.6px;top:962px;font-size:23.97px;color:#22262a;-webkit-text-stroke:0.91px #22262a;letter-spacing:1.01px;">146</div>
<div class="t" style="left:1790.2px;top:962px;font-size:23.97px;color:#22262a;-webkit-text-stroke:0.91px #22262a;letter-spacing:1.01px;">146</div>
<div class="t" style="left:572.8px;top:1062px;font-size:23.97px;color:#3a424d;-webkit-text-stroke:0.91px #3a424d;letter-spacing:-0.24px;">REACTION_ADDED</div>
<div class="t" style="left:1207.7px;top:1061px;font-size:23.97px;color:#6b7681;-webkit-text-stroke:0.91px #6b7681;letter-spacing:0.38px;">Edit</div>
<div class="t" style="left:1311.6px;top:1062px;font-size:23.97px;color:#22262a;-webkit-text-stroke:0.91px #22262a;letter-spacing:1.36px;">59</div>
<div class="t" style="left:1791.2px;top:1062px;font-size:23.97px;color:#22262a;-webkit-text-stroke:0.91px #22262a;letter-spacing:1.36px;">59</div>
<div class="t" style="left:572.8px;top:1162px;font-size:23.97px;color:#3a424d;-webkit-text-stroke:0.91px #3a424d;letter-spacing:-0.38px;">REACTION_REMOVED</div>
<div class="t" style="left:1207.7px;top:1161px;font-size:23.97px;color:#6b7681;-webkit-text-stroke:0.91px #6b7681;letter-spacing:0.38px;">Edit</div>
<div class="t" style="left:1310.6px;top:1162px;font-size:23.97px;color:#22262a;-webkit-text-stroke:0.91px #22262a;">9</div>
<div class="t" style="left:1790.2px;top:1162px;font-size:23.97px;color:#22262a;-webkit-text-stroke:0.91px #22262a;">9</div>
<div class="t" style="left:572.8px;top:1262px;font-size:23.97px;color:#3a424d;-webkit-text-stroke:0.91px #3a424d;letter-spacing:-0.76px;">SESSION_REFRESH</div>
<div class="t" style="left:1207.7px;top:1261px;font-size:23.97px;color:#6b7681;-webkit-text-stroke:0.91px #6b7681;letter-spacing:0.38px;">Edit</div>
<div class="t" style="left:1311.6px;top:1262px;font-size:23.97px;color:#22262a;-webkit-text-stroke:0.91px #22262a;letter-spacing:1.71px;">477</div>
<div class="t" style="left:1791.2px;top:1262px;font-size:23.97px;color:#22262a;-webkit-text-stroke:0.91px #22262a;letter-spacing:1.71px;">477</div>
<div class="t" style="left:572.8px;top:1362px;font-size:23.97px;color:#3a424d;-webkit-text-stroke:0.91px #3a424d;letter-spacing:-0.33px;">SIGNUP_COMPLETE</div>
<div class="t" style="left:1207.7px;top:1361px;font-size:23.97px;color:#6b7681;-webkit-text-stroke:0.91px #6b7681;letter-spacing:0.38px;">Edit</div>
<div class="t" style="left:1310.6px;top:1362px;font-size:23.97px;color:#22262a;-webkit-text-stroke:0.91px #22262a;letter-spacing:2.36px;">89</div>
<div class="t" style="left:1790.2px;top:1362px;font-size:23.97px;color:#22262a;-webkit-text-stroke:0.91px #22262a;letter-spacing:2.36px;">89</div>
</div>
<svg class="abs" style="left:1918px;top:2px" width="308" height="132" viewBox="1918 2 308 132">
<ellipse cx="2071.8" cy="68" rx="144.2" ry="56.9" fill="none" stroke="#6b9c39" stroke-width="5.2"/>
</svg>
</body>
</html>
